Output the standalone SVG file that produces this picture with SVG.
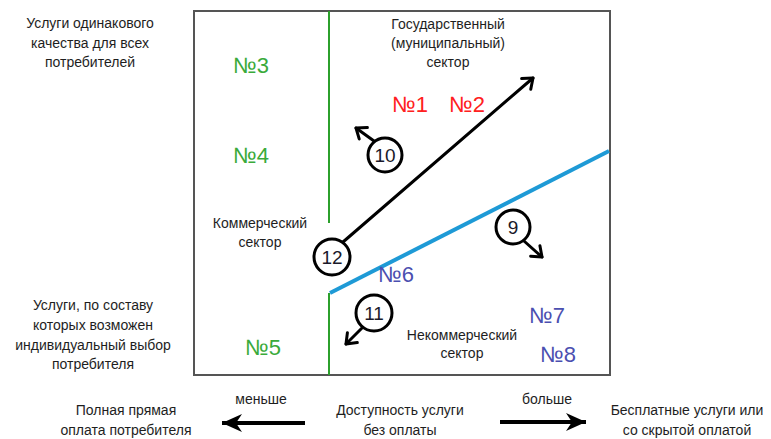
<svg xmlns="http://www.w3.org/2000/svg" width="771" height="439" viewBox="0 0 771 439">
<style>
  .lbl{font-family:"Liberation Sans",Arial,sans-serif;font-size:14px;fill:#1e1e1e;text-anchor:middle}
  .num{font-family:"Liberation Sans",Arial,sans-serif;font-size:22px;text-anchor:middle}
  .g{fill:#3aaa3a}
  .r{fill:#ff2020}
  .b{fill:#4b4fb0}
  .cnum{font-family:"Liberation Sans",Arial,sans-serif;font-size:19px;fill:#1a1a2a;text-anchor:middle}
  .circ{fill:#fff;stroke:#000;stroke-width:3}
  .arr{stroke:#000;stroke-width:3;fill:none;stroke-linecap:round}
  .big{stroke:#000;stroke-width:4;fill:none}
</style>
<defs>
  <marker id="chev" markerUnits="userSpaceOnUse" markerWidth="20" markerHeight="20" refX="0" refY="0" viewBox="-12 -10 14 20" orient="auto">
    <path d="M-9,-7 L0,0 L-9,7" fill="none" stroke="#000" stroke-width="3" stroke-linecap="round" stroke-linejoin="round"/>
  </marker>
  <marker id="head" markerUnits="userSpaceOnUse" markerWidth="30" markerHeight="24" refX="0" refY="0" viewBox="-22 -12 24 24" orient="auto">
    <path d="M0,0 L-20,-9 L-14,0 L-20,9 Z" fill="#000"/>
  </marker>
</defs>
<rect width="771" height="439" fill="#fff"/>

<g id="frame">
  <rect x="194" y="11" width="416" height="364" fill="none" stroke="#555" stroke-width="2"/>
  <line x1="329" y1="11" x2="329" y2="223" stroke="#2ca02c" stroke-width="2"/>
  <line x1="329" y1="293" x2="329" y2="375" stroke="#2ca02c" stroke-width="2"/>
  <line x1="330" y1="293" x2="609" y2="151" stroke="#1e9ad6" stroke-width="4"/>
</g>

<g id="connectors">
  <line class="arr" x1="343" y1="242" x2="533" y2="78" marker-end="url(#chev)"/>
  <line class="arr" x1="374" y1="141" x2="356" y2="128" marker-end="url(#chev)"/>
  <line class="arr" x1="524" y1="241" x2="542" y2="257" marker-end="url(#chev)"/>
  <line class="arr" x1="362" y1="328" x2="346" y2="344" marker-end="url(#chev)"/>
  <line class="big" x1="305" y1="423" x2="222" y2="423" marker-end="url(#head)"/>
  <line class="big" x1="500" y1="422" x2="586" y2="422" marker-end="url(#head)"/>
</g>

<g id="label-top-left">
  <text class="lbl" x="90" y="28">Услуги одинакового</text>
  <text class="lbl" x="90" y="48">качества для всех</text>
  <text class="lbl" x="90" y="67">потребителей</text>
</g>
<g id="label-bottom-left">
  <text class="lbl" x="93" y="310">Услуги, по составу</text>
  <text class="lbl" x="93" y="330">которых возможен</text>
  <text class="lbl" x="93" y="350">индивидуальный выбор</text>
  <text class="lbl" x="93" y="369">потребителя</text>
</g>
<g id="sector-state">
  <text class="lbl" x="448" y="29">Государственный</text>
  <text class="lbl" x="448" y="48">(муниципальный)</text>
  <text class="lbl" x="448" y="67">сектор</text>
</g>
<g id="sector-commercial">
  <text class="lbl" x="260" y="228">Коммерческий</text>
  <text class="lbl" x="260" y="247">сектор</text>
</g>
<g id="sector-noncommercial">
  <text class="lbl" x="462" y="340">Некоммерческий</text>
  <text class="lbl" x="462" y="358">сектор</text>
</g>

<g id="n3"><text class="num g" x="251" y="73">№3</text></g>
<g id="n4"><text class="num g" x="251" y="163">№4</text></g>
<g id="n5"><text class="num g" x="263" y="355">№5</text></g>
<g id="n1"><text class="num r" x="410" y="112">№1</text></g>
<g id="n2"><text class="num r" x="467" y="112">№2</text></g>
<g id="n6"><text class="num b" x="396" y="282">№6</text></g>
<g id="n7"><text class="num b" x="547" y="323">№7</text></g>
<g id="n8"><text class="num b" x="558" y="362">№8</text></g>

<g id="c10"><circle class="circ" cx="385" cy="155" r="17"/><text class="cnum" x="385" y="162">10</text></g>
<g id="c12"><circle class="circ" cx="332" cy="257" r="18"/><text class="cnum" x="332" y="264">12</text></g>
<g id="c9"><circle class="circ" cx="513" cy="227" r="17"/><text class="cnum" x="513" y="234">9</text></g>
<g id="c11"><circle class="circ" cx="374" cy="313" r="18"/><text class="cnum" x="374" y="320">11</text></g>

<g id="axis">
  <text class="lbl" x="261" y="404">меньше</text>
  <text class="lbl" x="547" y="404">больше</text>
  <text class="lbl" x="126" y="415">Полная прямая</text>
  <text class="lbl" x="126" y="435">оплата потребителя</text>
  <text class="lbl" x="400" y="415">Доступность услуги</text>
  <text class="lbl" x="400" y="435">без оплаты</text>
  <text class="lbl" x="687" y="415">Бесплатные услуги или</text>
  <text class="lbl" x="687" y="435">со скрытой оплатой</text>
</g>
</svg>
